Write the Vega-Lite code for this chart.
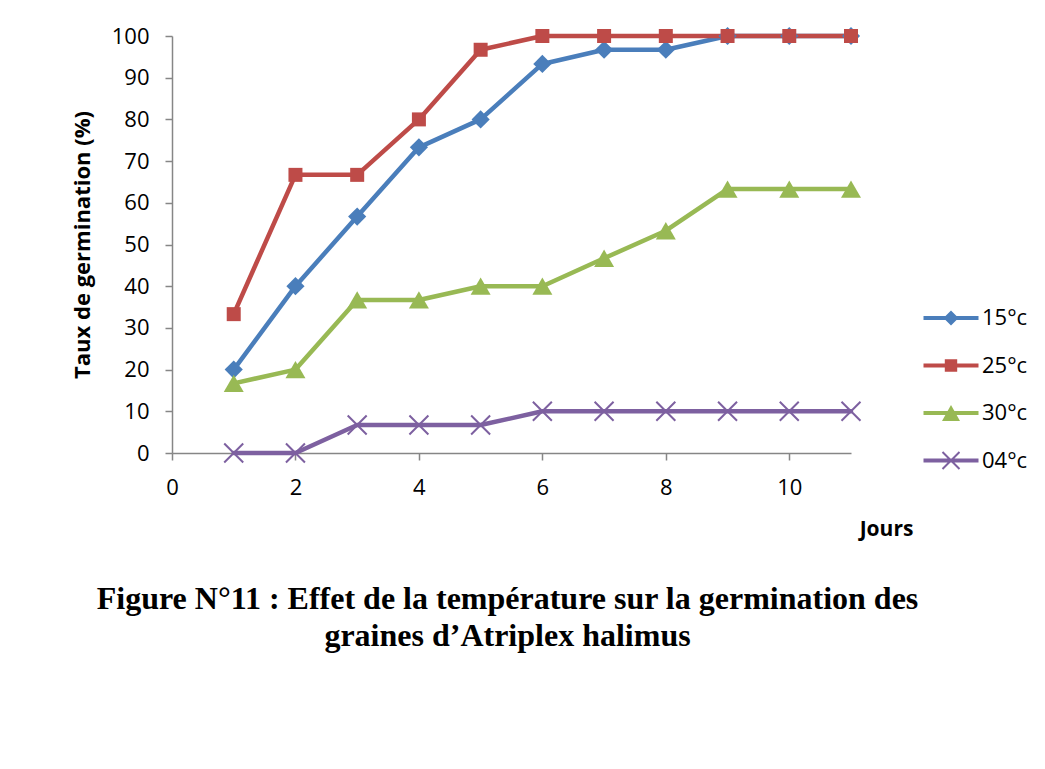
{
  "$schema": "https://vega.github.io/schema/vega-lite/v6.json",
  "autosize": {"type": "none"},
  "padding": {"left": 172, "top": 36, "right": 194, "bottom": 316},
  "width": 679,
  "height": 417,
  "background": "white",
  "config": {
    "view": {"stroke": null},
    "font": "Open Sans",
    "axis": {"grid": false, "domainColor": "#868686", "tickColor": "#868686", "domainWidth": 1.5, "tickWidth": 1.5, "tickSize": 7, "labelFont": "Open Sans", "labelFontSize": 22, "labelColor": "#000000", "titleFont": "Open Sans", "titleFontSize": 21, "titleFontWeight": "bold", "titleColor": "#000000"}
  },
  "title": {
    "text": ["Figure N°11 : Effet de la température sur la germination des", "graines d’Atriplex halimus"],
    "orient": "bottom",
    "anchor": "middle",
    "frame": "group",
    "font": "Liberation Serif",
    "fontSize": 32,
    "fontWeight": "bold",
    "color": "#000000",
    "lineHeight": 37,
    "offset": 45,
    "dx": -4
  },
  "data": {"values": [
    {"jour": 1, "taux": 20, "serie": "15°c"},
    {"jour": 2, "taux": 40, "serie": "15°c"},
    {"jour": 3, "taux": 56.7, "serie": "15°c"},
    {"jour": 4, "taux": 73.3, "serie": "15°c"},
    {"jour": 5, "taux": 80, "serie": "15°c"},
    {"jour": 6, "taux": 93.3, "serie": "15°c"},
    {"jour": 7, "taux": 96.7, "serie": "15°c"},
    {"jour": 8, "taux": 96.7, "serie": "15°c"},
    {"jour": 9, "taux": 100, "serie": "15°c"},
    {"jour": 10, "taux": 100, "serie": "15°c"},
    {"jour": 11, "taux": 100, "serie": "15°c"},
    {"jour": 1, "taux": 33.3, "serie": "25°c"},
    {"jour": 2, "taux": 66.7, "serie": "25°c"},
    {"jour": 3, "taux": 66.7, "serie": "25°c"},
    {"jour": 4, "taux": 80, "serie": "25°c"},
    {"jour": 5, "taux": 96.7, "serie": "25°c"},
    {"jour": 6, "taux": 100, "serie": "25°c"},
    {"jour": 7, "taux": 100, "serie": "25°c"},
    {"jour": 8, "taux": 100, "serie": "25°c"},
    {"jour": 9, "taux": 100, "serie": "25°c"},
    {"jour": 10, "taux": 100, "serie": "25°c"},
    {"jour": 11, "taux": 100, "serie": "25°c"},
    {"jour": 1, "taux": 16.7, "serie": "30°c"},
    {"jour": 2, "taux": 20, "serie": "30°c"},
    {"jour": 3, "taux": 36.7, "serie": "30°c"},
    {"jour": 4, "taux": 36.7, "serie": "30°c"},
    {"jour": 5, "taux": 40, "serie": "30°c"},
    {"jour": 6, "taux": 40, "serie": "30°c"},
    {"jour": 7, "taux": 46.7, "serie": "30°c"},
    {"jour": 8, "taux": 53.3, "serie": "30°c"},
    {"jour": 9, "taux": 63.3, "serie": "30°c"},
    {"jour": 10, "taux": 63.3, "serie": "30°c"},
    {"jour": 11, "taux": 63.3, "serie": "30°c"},
    {"jour": 1, "taux": 0, "serie": "04°c"},
    {"jour": 2, "taux": 0, "serie": "04°c"},
    {"jour": 3, "taux": 6.7, "serie": "04°c"},
    {"jour": 4, "taux": 6.7, "serie": "04°c"},
    {"jour": 5, "taux": 6.7, "serie": "04°c"},
    {"jour": 6, "taux": 10, "serie": "04°c"},
    {"jour": 7, "taux": 10, "serie": "04°c"},
    {"jour": 8, "taux": 10, "serie": "04°c"},
    {"jour": 9, "taux": 10, "serie": "04°c"},
    {"jour": 10, "taux": 10, "serie": "04°c"},
    {"jour": 11, "taux": 10, "serie": "04°c"}
  ]},
  "encoding": {
    "x": {"field": "jour", "type": "quantitative", "title": "Jours",
      "scale": {"domain": [0, 11], "nice": false, "zero": false},
      "axis": {"values": [0, 2, 4, 6, 8, 10], "labelPadding": 17, "labelFlush": false, "titleAnchor": "start", "titleX": 714, "titleY": 76, "titleAlign": "center", "titleBaseline": "middle"}},
    "y": {"field": "taux", "type": "quantitative", "title": "Taux de germination (%)",
      "scale": {"domain": [0, 100], "nice": false},
      "axis": {"values": [0, 10, 20, 30, 40, 50, 60, 70, 80, 90, 100], "labelPadding": 16, "titlePadding": 17, "titleFontSize": 22, "labelFlush": false}},
    "color": {"field": "serie", "type": "nominal",
      "scale": {"domain": ["15°c", "25°c", "30°c", "04°c"], "range": ["#4A7EBB", "#BE4B48", "#98B954", "#7D60A0"]},
      "legend": {
        "orient": "none", "legendX": 768, "legendY": 271, "title": null, "padding": 0,
        "symbolSize": 400, "labelOffset": 20, "rowPadding": 25.5,
        "labelFont": "Open Sans", "labelFontSize": 22, "labelColor": "#000000",
        "symbolStrokeWidth": 0, "symbolOpacity": 1
      }}
  },
  "layer": [
    {
      "mark": {"type": "line", "strokeWidth": 4.5, "strokeJoin": "round", "strokeCap": "round"},
      "encoding": {"detail": {"field": "serie"}}
    },
    {
      "transform": [{"filter": "datum.serie === '15°c'"}],
      "mark": {"type": "point", "filled": true, "opacity": 1, "shape": "diamond", "size": 330}
    },
    {
      "transform": [{"filter": "datum.serie === '25°c'"}],
      "mark": {"type": "point", "filled": true, "opacity": 1, "shape": "square", "size": 196}
    },
    {
      "transform": [{"filter": "datum.serie === '30°c'"}],
      "mark": {"type": "point", "filled": true, "opacity": 1, "shape": "triangle-up", "size": 400}
    },
    {
      "transform": [{"filter": "datum.serie === '04°c'"}],
      "mark": {"type": "point", "filled": false, "opacity": 1, "strokeWidth": 2, "shape": "M-1,-1L1,1M-1,1L1,-1", "size": 360}
    },
    {
      "transform": [{"filter": "datum.taux > 1000"}],
      "mark": {"type": "point", "filled": true, "opacity": 1},
      "encoding": {
        "shape": {"field": "serie", "type": "nominal",
          "scale": {"domain": ["15°c", "25°c", "30°c", "04°c"], "range": [
            "M-2.75,-0.2H2.75V0.2H-2.75Z M0,-0.75L0.75,0L0,0.75L-0.75,0Z",
            "M-2.75,-0.2H2.75V0.2H-2.75Z M-0.62,-0.62H0.62V0.62H-0.62Z",
            "M-2.75,-0.2H2.75V0.2H-2.75Z M0,-0.8L0.9,0.8L-0.9,0.8Z",
            "M-2.75,-0.2H2.75V0.2H-2.75Z M-0.78,-0.92L0.92,0.78L0.78,0.92L-0.92,-0.78Z M-0.78,0.92L-0.92,0.78L0.78,-0.92L0.92,-0.78Z"
          ]}}
      }
    }
  ]
}
